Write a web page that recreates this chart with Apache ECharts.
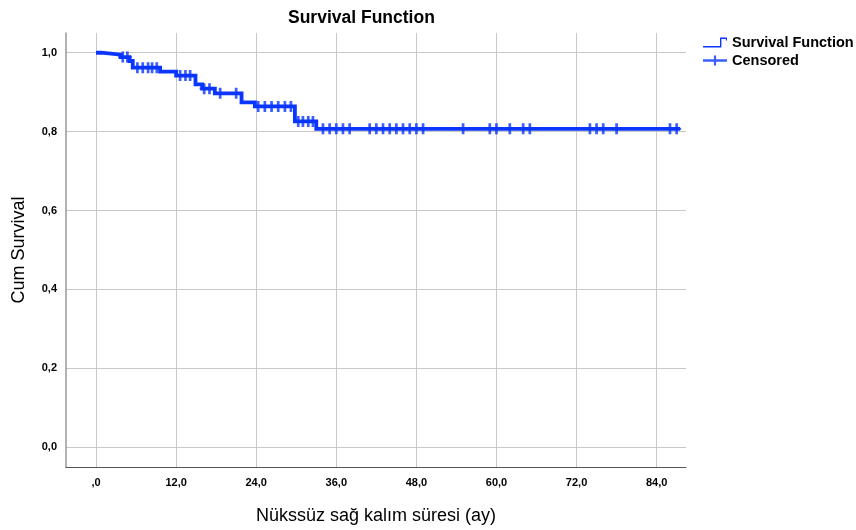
<!DOCTYPE html>
<html>
<head>
<meta charset="utf-8">
<script src="https://cdn.jsdelivr.net/npm/echarts@6/dist/echarts.min.js"></script>
<style>html,body{margin:0;padding:0;background:#fff}#c{width:856px;height:530px}</style>
</head>
<body>
<div id="c"></div>
<script>
// ---- data ----
const eventTimes    = [0.8, 3.7, 5.0, 5.5, 9.6, 12.0, 14.9, 15.9, 17.8, 21.8, 23.8, 29.8, 33.0];
const survivalAfter = [0.995, 0.989, 0.979, 0.962, 0.952, 0.942, 0.920, 0.909, 0.897, 0.874, 0.864, 0.826, 0.807];
const censoredTimes = [4.0, 4.7, 6.2, 7.0, 7.8, 8.4, 9.1, 12.6, 13.4, 14.1, 16.2, 17.0, 18.6, 21.0,
  24.3, 25.3, 26.3, 27.3, 28.3, 29.2, 30.3, 31.0, 31.8, 32.5,
  34, 35, 36, 37, 38, 41, 42, 43, 44, 45, 46, 47, 48, 49, 55, 59, 60, 62, 64, 65, 74, 75, 76, 78, 86, 87];
const xTicks = [0, 12, 24, 36, 48, 60, 72, 84];
const yTicks = [0, 0.2, 0.4, 0.6, 0.8, 1.0];
const titleText = 'Survival Function';
const xName = 'Nükssüz sağ kalım süresi (ay)';
const yName = 'Cum Survival';
const legendNames = ['Survival Function', 'Censored'];

// ---- build step curve from the arrays ----
function survAt(t) {
  let s = 1;
  for (let i = 0; i < eventTimes.length; i++) if (eventTimes[i] <= t) s = survivalAfter[i];
  return s;
}
const stepData = [[0, 1]];
let prev = 1;
for (let i = 0; i < eventTimes.length; i++) {
  stepData.push([eventTimes[i], prev]);
  stepData.push([eventTimes[i], survivalAfter[i]]);
  prev = survivalAfter[i];
}
const lastT = censoredTimes[censoredTimes.length - 1];
stepData.push([lastT + 0.5, prev]);
const censData = censoredTimes.map(t => [t, survAt(t)]);

const BLUE = '#0a36ff';
const FONT = 'Liberation Sans, Arial, sans-serif';
const plusPath = 'path://M0,4H3.5V0H6.5V4H10V6H6.5V10H3.5V6H0Z';
const legendStep = 'path://M0,8.6H17V0H24V3H22.9V1.4H18.4V10H0Z';
const legendPlus = 'path://M0,3.8H10.9V0H13.1V3.8H24V6.2H13.1V10H10.9V6.2H0Z';

const chart = echarts.init(document.getElementById('c'));
chart.setOption({
  animation: false,
  backgroundColor: '#fff',
  title: {
    text: titleText, left: 288, top: 9, padding: 0,
    textStyle: {fontFamily: FONT, fontSize: 17.5, fontWeight: 'bold', color: '#000'}
  },
  legend: {
    orient: 'vertical', left: 703, top: 35, itemWidth: 24, itemHeight: 11, itemGap: 3,
    padding: 0,
    textStyle: {fontFamily: FONT, fontSize: 14.5, fontWeight: 'bold', color: '#000'},
    data: [
      {name: legendNames[0], icon: legendStep},
      {name: legendNames[1], icon: legendPlus}
    ]
  },
  grid: {left: 66, right: 170, top: 33, bottom: 60},
  xAxis: {
    type: 'value', min: -4.5, max: 88.4,
    name: xName, nameLocation: 'middle', nameGap: 40,
    nameTextStyle: {fontFamily: FONT, fontSize: 18, color: '#000'},
    axisLine: {show: true, onZero: false, lineStyle: {color: '#555', width: 1}},
    axisTick: {show: false, customValues: xTicks},
    axisLabel: {
      customValues: xTicks, margin: 10,
      fontFamily: FONT, fontSize: 11, fontWeight: 'bold', color: '#000',
      formatter: v => v === 0 ? ',0' : v.toFixed(1).replace('.', ',')
    },
    splitLine: {show: true, lineStyle: {color: '#c8c8c8', width: 1}}
  },
  yAxis: {
    type: 'value', min: -0.05, max: 1.05,
    name: yName, nameLocation: 'middle', nameGap: 38, nameRotate: 90,
    nameTextStyle: {fontFamily: FONT, fontSize: 18, color: '#000'},
    axisLine: {show: true, onZero: false, lineStyle: {color: '#999', width: 1.5}},
    axisTick: {show: false, customValues: yTicks},
    axisLabel: {
      customValues: yTicks, margin: 9,
      fontFamily: FONT, fontSize: 11, fontWeight: 'bold', color: '#000',
      formatter: v => v.toFixed(1).replace('.', ',')
    },
    splitLine: {show: true, lineStyle: {color: '#c8c8c8', width: 1}}
  },
  series: [
    {
      name: legendNames[0], type: 'line', data: stepData, showSymbol: false, symbol: 'none',
      lineStyle: {color: BLUE, width: 3.8, join: 'miter'}, itemStyle: {color: BLUE}, z: 3
    },
    {
      name: legendNames[1], type: 'scatter', data: censData,
      symbol: plusPath, symbolSize: [9, 11], itemStyle: {color: BLUE}, z: 4
    }
  ]
});
</script>
</body>
</html>
